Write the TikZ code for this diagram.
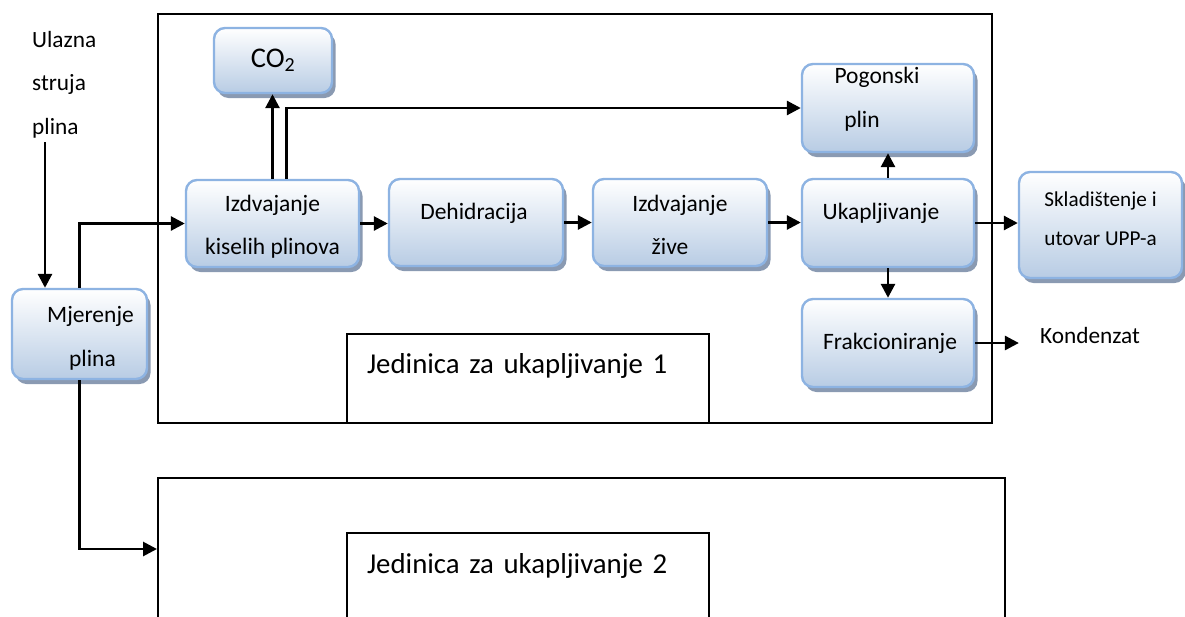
\documentclass[tikz,border=0pt]{standalone}
\usepackage{fontspec}
\setmainfont{Carlito}
\usetikzlibrary{arrows.meta,shadows}
\definecolor{bord}{RGB}{141,179,226}
\definecolor{boxbot}{RGB}{184,204,228}
\definecolor{shad}{RGB}{138,154,178}
\newcommand\shl[3]{\raisebox{#2}[\height][\depth]{\hspace*{#1}#3\hspace*{-#1}}}
\begin{document}
\begin{tikzpicture}[x=1pt,y=-1pt,
  procbox/.style={draw=bord, line width=2.4pt, rounded corners=11pt,
    top color=white, bottom color=boxbot,
    drop shadow={shadow xshift=3.5pt, shadow yshift=-5pt, fill=shad, opacity=1},
    align=center, inner sep=0pt, font=\fontsize{23.5}{42}\selectfont},
  unitbox/.style={draw, line width=2pt, inner sep=0pt, anchor=north west},
  plain/.style={inner sep=0pt, font=\fontsize{23.3}{43.5}\selectfont},
  arr/.style={line width=2.8pt, -{Triangle[length=14pt,width=14pt]}},
  ]
\useasboundingbox (0,0) rectangle (1185,616);
\clip (0,0) rectangle (1185,616);

% liquefaction units
\node[unitbox, minimum width=834pt, minimum height=409pt] (u1) at (157,13) {};
\node[unitbox, minimum width=847pt, minimum height=142pt] (u2) at (157,477) {};
\node[unitbox, minimum width=362pt, minimum height=89pt, align=left, text width=322pt,
      inner xsep=20pt, font=\fontsize{28.8}{30}\selectfont] (l1) at (346,333)
      {\raisebox{12.5pt}[\height][\depth]{Jedinica za ukapljivanje 1}};
\node[unitbox, minimum width=362pt, minimum height=87pt, align=left, text width=322pt,
      inner xsep=20pt, font=\fontsize{28.8}{30}\selectfont] (l2) at (346,532)
      {\raisebox{10.5pt}[\height][\depth]{Jedinica za ukapljivanje 2}};

% process boxes
\node[procbox, minimum width=118pt, minimum height=65pt, font=\fontsize{28.5}{30}\selectfont] (co2) at (273,60.5) {CO\textsubscript{2}};
\node[procbox, minimum width=173pt, minimum height=87pt] (ikp) at (272.5,223.5)
  {\shl{0pt}{-3pt}{Izdvajanje}\\[1pt]\shl{0pt}{-3pt}{kiselih plinova}};
\node[procbox, minimum width=135pt, minimum height=90pt] (mj) at (79.5,334)
  {\shl{11pt}{-4pt}{Mjerenje}\\[2pt]\shl{13pt}{-4pt}{plina}};
\node[procbox, minimum width=174pt, minimum height=87pt] (deh) at (476,222.5)
  {\shl{-2pt}{9.5pt}{Dehidracija}};
\node[procbox, minimum width=174pt, minimum height=87pt] (iz) at (680,222.5)
  {\shl{0pt}{-2pt}{Izdvajanje}\\[1pt]\shl{-10pt}{-2pt}{žive}};
\node[procbox, minimum width=172pt, minimum height=88pt] (pog) at (888,108)
  {\shl{-11pt}{8.5pt}{Pogonski}\\[2pt]\shl{-26pt}{8.5pt}{plin}};
\node[procbox, minimum width=172pt, minimum height=88pt] (uk) at (888,223)
  {\shl{-7pt}{10pt}{Ukapljivanje}};
\node[procbox, minimum width=172pt, minimum height=88pt] (frak) at (888,343)
  {\shl{2pt}{0pt}{Frakcioniranje}};
\node[procbox, minimum width=163pt, minimum height=106pt, font=\fontsize{21.2}{39}\selectfont] (skl) at (1100.5,225)
  {\shl{0pt}{6pt}{Skladištenje i}\\\shl{0pt}{6pt}{utovar UPP-a}};

% free texts
\node[plain, align=left, anchor=west] (ul) at (32,84.5) {Ulazna\\struja\\plina};
\node[plain, inner xsep=21pt, inner ysep=0pt] (kond) at (1090,335) {Kondenzat};

% connectors
\coordinate (inA) at (45,142);
\draw[arr] (inA) -- (inA |- mj.north);
\draw[arr] (mj.north) -- (mj.north |- ikp.west) -- (ikp.west);
\draw[arr] (mj.south) |- (u2.west);
\draw[arr] (ikp.north) -- (ikp.north |- co2.south);
\draw[arr] ([xshift=14pt]ikp.north) |- (pog.west);
\draw[arr] (ikp.east) -- (ikp.east -| deh.west);
\draw[arr] (deh.east) -- (deh.east -| iz.west);
\draw[arr] (iz.east) -- (iz.east -| uk.west);
\draw[arr] (uk.north) -- (uk.north |- pog.south);
\draw[arr] (uk.south) -- (uk.south |- frak.north);
\draw[arr] (uk.east) -- (uk.east -| skl.west);
\draw[arr] (frak.east) -- (frak.east -| kond.west);
\end{tikzpicture}
\end{document}
